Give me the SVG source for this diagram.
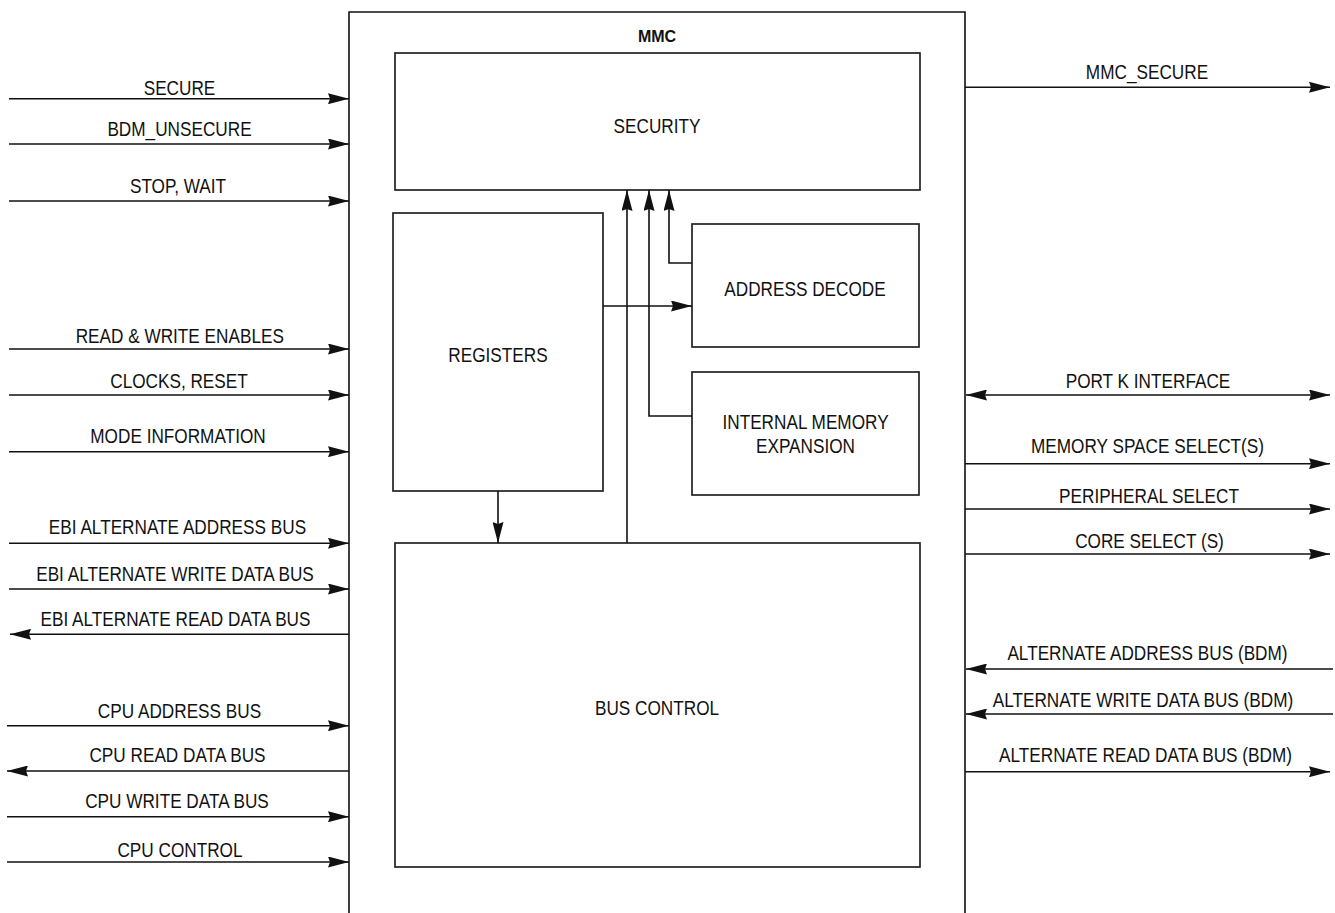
<svg xmlns="http://www.w3.org/2000/svg" width="1335" height="913" viewBox="0 0 1335 913">
<style>
text{font-family:"Liberation Sans",Arial,Helvetica,sans-serif;font-size:20px;fill:#111;text-anchor:middle}
.t{transform-box:fill-box;transform-origin:center;transform:scaleX(0.86)}
.title{font-size:16px;font-weight:bold}
.box{fill:#fff;stroke:#222;stroke-width:1.7}
.ln{fill:none;stroke:#111;stroke-width:1.6}
.a{marker-end:url(#ah)}
.b{marker-start:url(#ah);marker-end:url(#ah)}
</style>
<defs>
<marker id="ah" markerUnits="userSpaceOnUse" viewBox="0 0 21 11" refX="21" refY="5.5" markerWidth="21" markerHeight="11" orient="auto-start-reverse">
<path d="M0,0 L21,5.5 L0,11 L2,5.5 z" fill="#111"/>
</marker>
</defs>
<rect width="1335" height="913" fill="#fff"/>

<g id="mmc">
<path class="ln" d="M349,913 V12 H965 V913"/>
<text class="title" x="657" y="42">MMC</text>
</g>

<g id="security">
<rect class="box" x="395" y="53" width="525" height="137"/>
<text class="t" x="657" y="133">SECURITY</text>
</g>
<g id="registers">
<rect class="box" x="393" y="213" width="210" height="278"/>
<text class="t" x="498" y="362">REGISTERS</text>
</g>
<g id="address-decode">
<rect class="box" x="692" y="224" width="227" height="123"/>
<text class="t" x="805" y="296">ADDRESS DECODE</text>
</g>
<g id="internal-memory-expansion">
<rect class="box" x="692" y="372" width="227" height="123"/>
<text class="t" x="805.5" y="429">INTERNAL MEMORY</text>
<text class="t" x="805.5" y="453">EXPANSION</text>
</g>
<g id="bus-control">
<rect class="box" x="395" y="543" width="525" height="324"/>
<text class="t" x="657" y="715">BUS CONTROL</text>
</g>

<g id="connectors">
<path class="ln a" d="M627,543 V190"/>
<path class="ln a" d="M692,416 H649 V190"/>
<path class="ln a" d="M692,263 H669 V190"/>
<path class="ln a" d="M603,306 H692"/>
<path class="ln a" d="M498,491 V543"/>

<path class="ln a" d="M9,98.7 H349"/>
<path class="ln a" d="M9,144 H349"/>
<path class="ln a" d="M9,201 H349"/>
<path class="ln a" d="M9,349 H349"/>
<path class="ln a" d="M9,395 H349"/>
<path class="ln a" d="M9,451.7 H349"/>
<path class="ln a" d="M9,543.3 H349"/>
<path class="ln a" d="M9,589 H349"/>
<path class="ln a" d="M349,634.3 H10"/>
<path class="ln a" d="M7,725.7 H349"/>
<path class="ln a" d="M349,771 H7"/>
<path class="ln a" d="M7,816.7 H349"/>
<path class="ln a" d="M7,862 H349"/>

<path class="ln a" d="M965,87.3 H1330"/>
<path class="ln b" d="M966,395 H1330"/>
<path class="ln a" d="M965,463.7 H1330"/>
<path class="ln a" d="M965,509 H1330"/>
<path class="ln a" d="M965,554 H1330"/>
<path class="ln a" d="M1333,669 H966"/>
<path class="ln a" d="M1333,714 H966"/>
<path class="ln a" d="M965,771.7 H1330"/>
</g>

<g id="labels">
<text class="t" x="179.5" y="95">SECURE</text>
<text class="t" x="179.5" y="136">BDM_UNSECURE</text>
<text class="t" x="178" y="193.3">STOP, WAIT</text>
<text class="t" x="179.8" y="342.7">READ &amp; WRITE ENABLES</text>
<text class="t" x="179" y="388.3">CLOCKS, RESET</text>
<text class="t" x="178" y="442.7">MODE INFORMATION</text>
<text class="t" x="177.5" y="534.3">EBI ALTERNATE ADDRESS BUS</text>
<text class="t" x="175" y="580.7">EBI ALTERNATE WRITE DATA BUS</text>
<text class="t" x="175.5" y="626">EBI ALTERNATE READ DATA BUS</text>
<text class="t" x="179.5" y="718.3">CPU ADDRESS BUS</text>
<text class="t" x="177.5" y="762.3">CPU READ DATA BUS</text>
<text class="t" x="177" y="808.3">CPU WRITE DATA BUS</text>
<text class="t" x="180" y="856.7">CPU CONTROL</text>

<text class="t" x="1147" y="79">MMC_SECURE</text>
<text class="t" x="1148" y="388.3">PORT K INTERFACE</text>
<text class="t" x="1147.5" y="453.3">MEMORY SPACE SELECT(S)</text>
<text class="t" x="1149" y="503.3">PERIPHERAL SELECT</text>
<text class="t" x="1149.5" y="548.3">CORE SELECT (S)</text>
<text class="t" x="1147.5" y="660">ALTERNATE ADDRESS BUS (BDM)</text>
<text class="t" x="1143" y="706.7">ALTERNATE WRITE DATA BUS (BDM)</text>
<text class="t" x="1145.5" y="761.7">ALTERNATE READ DATA BUS (BDM)</text>
</g>
</svg>
